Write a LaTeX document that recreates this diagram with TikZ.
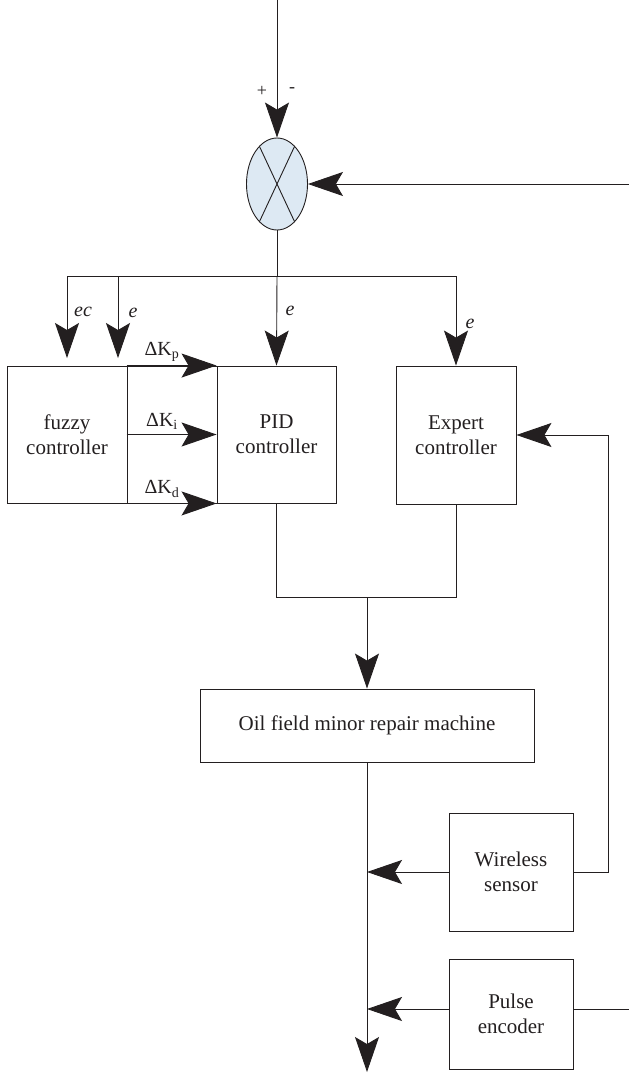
\documentclass[tikz,border=0pt]{standalone}
\usepackage{fontspec}
\setmainfont{Liberation Serif}
\usetikzlibrary{arrows.meta,shapes.geometric,calc}
\definecolor{ink}{HTML}{231F20}
\definecolor{sumfill}{HTML}{DDE9F3}
\tikzset{
  line/.style={draw=ink,line width=0.9pt},
  arr/.style={line,-{Stealth[length=35pt,width=24pt,inset=7pt]}},
  blk/.style={draw=ink,line width=0.9pt,rectangle,inner sep=0pt,align=center,text=ink,font=\fontsize{21}{25}\selectfont},
  lbl/.style={text=ink,inner sep=0pt,font=\fontsize{20}{23}\selectfont},
  sgn/.style={text=ink,inner sep=0pt,font=\fontsize{18}{20}\selectfont}
}
\begin{document}
\begin{tikzpicture}[x=1pt,y=-1pt]
\useasboundingbox (0,0) rectangle (629,1079);
% nodes
\node[ellipse,draw=ink,line width=0.9pt,fill=sumfill,minimum width=61pt,minimum height=92pt,inner sep=0pt] (sum) at (277,184) {};
\node[blk,minimum width=120pt,minimum height=137pt] (fuzzy) at (67,434.5) {fuzzy\\controller};
\node[blk,minimum width=90pt,minimum height=137pt] (fuzzyR) at (172,434.5) {};
\node[blk,minimum width=119pt,minimum height=137pt] (pid) at (276.5,434.5) {PID\\controller};
\node[blk,minimum width=120pt,minimum height=138pt] (expert) at (456,435) {Expert\\controller};
\node[blk,minimum width=334pt,minimum height=73pt] (oil) at (367,725.5) {Oil field minor repair machine};
\node[blk,minimum width=124pt,minimum height=118pt] (wireless) at (511,872) {Wireless\\sensor};
\node[blk,minimum width=124pt,minimum height=110pt] (pulse) at (511,1014) {Pulse\\encoder};
% coordinates
\coordinate (in) at (277,0);
\coordinate (fbR) at (629,184);
\coordinate (split) at (277,276);
\coordinate (ecTop) at (67,276);
\coordinate (ecEnd) at (67,358);
\coordinate (eTop) at (118,276);
\coordinate (eEnd) at (118,358);
\coordinate (exTop) at (456,276);
\coordinate (merge) at (367,597);
\coordinate (out) at (367,1072);
\coordinate (jW) at (367,872);
\coordinate (jP) at (367,1009);
\coordinate (pL) at (449,1009);
\coordinate (pR) at (573,1009);
\coordinate (pEnd) at (629,1009);
\coordinate (fbX) at (608,435);
% X in summing junction
\draw[line] (sum.115) -- (sum.-65);
\draw[line] (sum.65) -- (sum.-115);
% connectors
\draw[arr] (in) -- (sum.north);
\draw[arr] (fbR) -- (sum.east);
\draw[line] (sum.south) -- (split);
\draw[line] (ecTop) -- (exTop);
\draw[arr] (split) -- (pid.north);
\draw[arr] (exTop) -- (expert.north);
\draw[arr] (ecTop) -- (ecEnd);
\draw[arr] (eTop) -- (eEnd);
\draw[arr] (fuzzyR.north west) -- (pid.north west);
\draw[arr] (fuzzyR.west) -- (pid.west);
\draw[arr] (fuzzyR.south west) -- (pid.south west);
\draw[line] (pid.south) |- (merge);
\draw[line] (merge) -| (expert.south);
\draw[arr] (merge) -- (oil.north);
\draw[arr] (oil.south) -- (out);
\draw[arr] (wireless.west) -- (jW);
\draw[arr] (pL) -- (jP);
\draw[line] (pR) -- (pEnd);
\draw[arr] (wireless.east) -| (fbX) -- (expert.east);
% labels
\node[sgn] (plus) at (262,91) {+};
\node[sgn] (minus) at (292,90) {-};
\node[lbl] (lec) at (83,312) {\textit{ec}};
\node[lbl] (le1) at (133,313) {\textit{e}};
\node[lbl] (le2) at (290,311) {\textit{e}};
\node[lbl] (le3) at (470,324) {\textit{e}};
\node[lbl] (lkp) at (162,352) {ΔK\textsubscript{p}};
\node[lbl] (lki) at (162,421) {ΔK\textsubscript{i}};
\node[lbl] (lkd) at (162,489) {ΔK\textsubscript{d}};
\end{tikzpicture}
\end{document}
